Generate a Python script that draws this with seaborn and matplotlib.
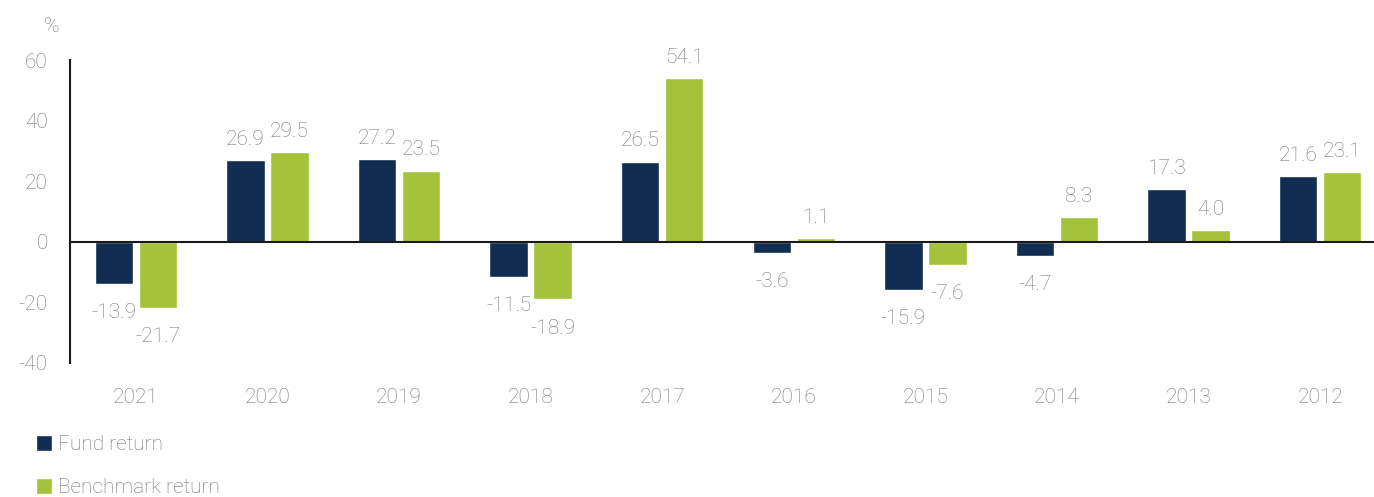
import matplotlib
matplotlib.use("Agg")
import matplotlib.pyplot as plt
import seaborn as sns
import pandas as pd

years = ["2021", "2020", "2019", "2018", "2017", "2016", "2015", "2014", "2013", "2012"]
fund_return = [-13.9, 26.9, 27.2, -11.5, 26.5, -3.6, -15.9, -4.7, 17.3, 21.6]
benchmark_return = [-21.7, 29.5, 23.5, -18.9, 54.1, 1.1, -7.6, 8.3, 4.0, 23.1]
series_names = ["Fund return", "Benchmark return"]
colors = ["#112d52", "#a5c33a"]
y_ticks = [-40, -20, 0, 20, 40, 60]

sns.set_theme(style="white")
plt.rcParams["font.family"] = ["Roboto", "DejaVu Sans"]
text_color = "#767676"
FW = "light"

df = pd.DataFrame({
    "year": years * 2,
    "value": fund_return + benchmark_return,
    "series": [series_names[0]] * len(years) + [series_names[1]] * len(years),
})

fig = plt.figure(figsize=(13.74, 4.97), dpi=100)
W, H = 1374, 497
ax = fig.add_axes([70 / W, 1 - 363 / H, (1386 - 70) / W, (363 - 60) / H])

sns.barplot(data=df, x="year", y="value", hue="series", order=years,
            hue_order=series_names, palette=colors, width=0.67, gap=0.13,
            ax=ax, saturation=1, errorbar=None)

for cont in ax.containers:
    for bar in cont:
        h = bar.get_height()
        x = bar.get_x() + bar.get_width() / 2
        if h >= 0:
            ax.annotate(f"{h:.1f}", (x, h), xytext=(0, 8), textcoords="offset points",
                        ha="center", va="bottom", fontsize=15, color=text_color,
                        fontweight=FW)
        else:
            ax.annotate(f"{h:.1f}", (x, h), xytext=(0, -14), textcoords="offset points",
                        ha="center", va="top", fontsize=15, color=text_color,
                        fontweight=FW)

ax.set_ylim(-40, 60)
ax.set_xlim(-0.5, len(years) - 0.5)
ax.set_yticks(y_ticks)
ax.set_yticklabels([str(t) for t in y_ticks], fontweight=FW)
ax.set_xticks(range(len(years)))
ax.set_xticklabels(years, fontweight=FW)
ax.axhline(0, color="#1a1a1a", lw=1.5, zorder=3)
for s in ["top", "right", "bottom"]:
    ax.spines[s].set_visible(False)
ax.spines["left"].set_color("#1a1a1a")
ax.spines["left"].set_linewidth(1.5)
ax.tick_params(axis="y", length=0, pad=16, labelsize=15, labelcolor=text_color)
ax.tick_params(axis="x", length=0, pad=18, labelsize=15, labelcolor=text_color)
ax.set_xlabel("")
ax.set_ylabel("")
fig.text(52 / W, 1 - 26 / H, "%", ha="center", va="center",
         fontsize=15, color=text_color, fontweight=FW)

handles, labels = ax.get_legend_handles_labels()
if ax.get_legend() is not None:
    ax.get_legend().remove()
leg = fig.legend(handles, labels, loc="upper left", bbox_to_anchor=(28 / W, 1 - 427 / H),
                 frameon=False, fontsize=15, handlelength=0.75, handleheight=0.75,
                 handletextpad=0.3, labelspacing=1.15, borderaxespad=0)
for t in leg.get_texts():
    t.set_color(text_color)
    t.set_fontweight(FW)

fig.savefig("out.png", dpi=100)
